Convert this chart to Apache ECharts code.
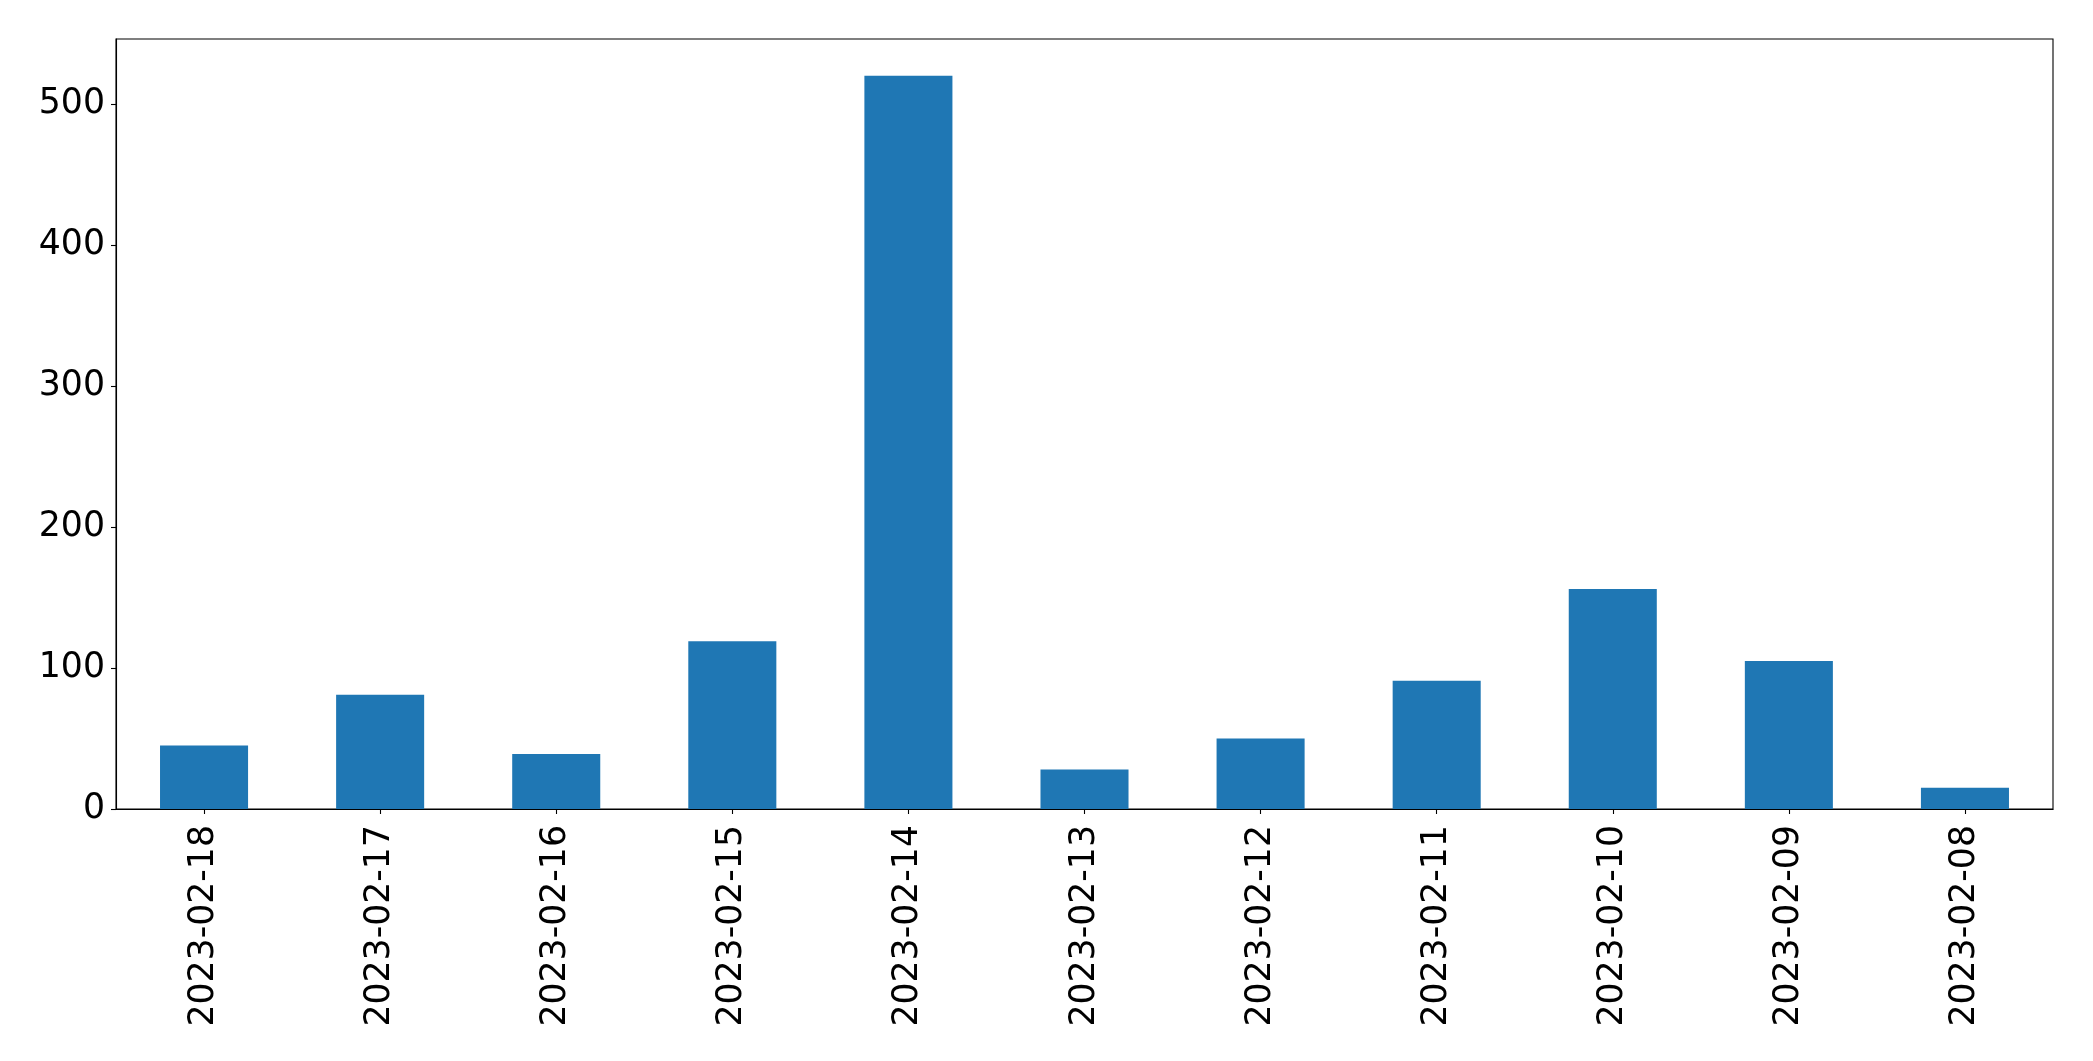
<!DOCTYPE html>
<html>
<head>
<meta charset="utf-8">
<script src="https://cdn.jsdelivr.net/npm/echarts@6/dist/echarts.min.js"></script>
<style>
html,body{margin:0;padding:0;background:#fff;}
#chart{width:2093px;height:1061px;}
</style>
</head>
<body>
<div id="chart"></div>
<script>
const categories = ['2023-02-18','2023-02-17','2023-02-16','2023-02-15','2023-02-14','2023-02-13','2023-02-12','2023-02-11','2023-02-10','2023-02-09','2023-02-08'];
const values = [45, 81, 39, 119, 520, 28, 50, 91, 156, 105, 15];
const yTicks = [0, 100, 200, 300, 400, 500];

const chart = echarts.init(document.getElementById('chart'), null, {renderer: 'canvas'});
chart.setOption({
  animation: false,
  backgroundColor: '#ffffff',
  grid: {
    left: 116, right: 40, top: 39, bottom: 252,
    show: true, borderColor: '#000', borderWidth: 1.1, backgroundColor: 'transparent'
  },
  xAxis: {
    type: 'category',
    data: categories,
    axisLine: {show: true, lineStyle: {color: '#000', width: 1.1}},
    axisTick: {show: true, alignWithLabel: true, length: 5, lineStyle: {color: '#000', width: 1.1}},
    axisLabel: {
      rotate: 90, margin: 16, color: '#000', fontSize: 34.7,
      fontFamily: 'DejaVu Sans', interval: 0
    },
    splitLine: {show: false}
  },
  yAxis: {
    type: 'value',
    min: 0, max: 546, interval: 100,
    axisLine: {show: true, lineStyle: {color: '#000', width: 1.1}},
    axisTick: {show: true, length: 5, lineStyle: {color: '#000', width: 1.1}, customValues: yTicks},
    axisLabel: {margin: 11, color: '#000', fontSize: 34.7, fontFamily: 'DejaVu Sans', customValues: yTicks},
    splitLine: {show: false}
  },
  series: [{
    type: 'bar',
    data: values,
    barCategoryGap: '50%',
    itemStyle: {color: '#1f77b4'}
  }]
});
</script>
</body>
</html>
